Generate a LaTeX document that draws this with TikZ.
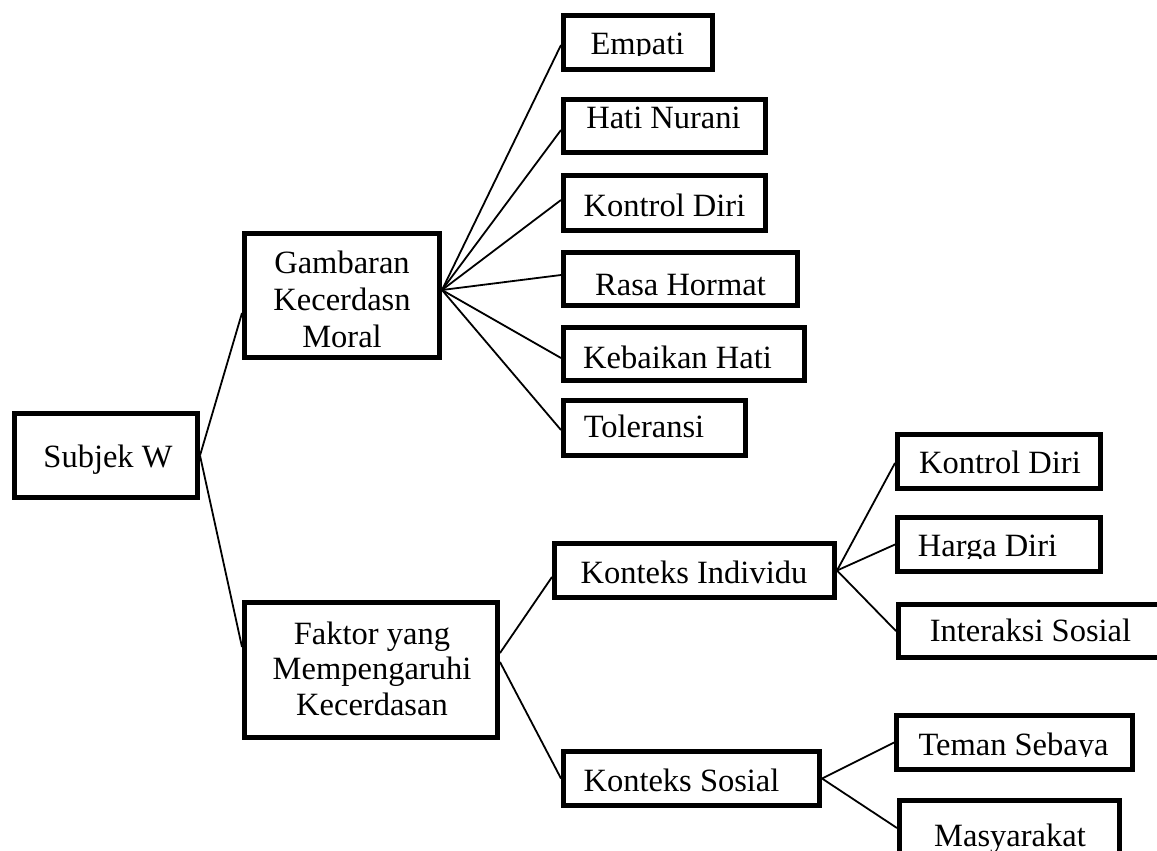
\documentclass[tikz,border=0pt]{standalone}
\usepackage{fontspec}
\setmainfont{Liberation Serif}
\begin{document}
\begin{tikzpicture}[x=1pt,y=-1pt,
  box/.style={draw,line width=5pt,rectangle,inner sep=0pt,fill=white},
  conn/.style={line width=1.8pt},
  txt/.style={inner sep=0pt,anchor=base,font=\fontsize{32.5}{37}\selectfont},
  mtxt/.style={inner sep=0pt,anchor=base,align=center}]
\useasboundingbox (0,0) rectangle (1157,851);
\clip (0,0) rectangle (1157,851);
% boxes
\node[box,minimum width=183pt,minimum height=84pt] (sub) at (106,455.5) {};
\node[box,minimum width=195pt,minimum height=124pt] (gam) at (342,295.5) {};
\node[box,minimum width=253pt,minimum height=135pt] (fak) at (371,670) {};
\node[box,minimum width=149pt,minimum height=54pt] (emp) at (638,42.5) {};
\node[box,minimum width=202pt,minimum height=53pt] (hat) at (664.5,126) {};
\node[box,minimum width=202pt,minimum height=55pt] (kon) at (664.5,203) {};
\node[box,minimum width=234pt,minimum height=53pt] (ras) at (680.5,279) {};
\node[box,minimum width=241pt,minimum height=53pt] (keb) at (684,354) {};
\node[box,minimum width=182pt,minimum height=55pt] (tol) at (654.5,428) {};
\node[box,minimum width=280pt,minimum height=54pt] (kin) at (694.5,570.5) {};
\node[box,minimum width=256pt,minimum height=54pt] (kso) at (691.5,778.5) {};
\node[box,minimum width=203pt,minimum height=54pt] (kdt) at (999,461.5) {};
\node[box,minimum width=203pt,minimum height=54pt] (har) at (999,544.5) {};
\node[box,minimum width=274pt,minimum height=53pt] (int) at (1035.5,631) {};
\node[box,minimum width=236pt,minimum height=54pt] (tem) at (1014.5,742.5) {};
\node[box,minimum width=220pt,minimum height=67pt] (mas) at (1009.5,834) {};
% connectors
\draw[conn] (sub.east) -- ([yshift=-17.5pt]gam.west);
\draw[conn] (sub.east) -- ([yshift=23pt]fak.west);
\coordinate (gc) at ([yshift=5.5pt]gam.east);
\draw[conn] (gc) -- ([yshift=-2.5pt]emp.west);
\draw[conn] (gc) -- ([yshift=-4pt]hat.west);
\draw[conn] (gc) -- ([yshift=3pt]kon.west);
\draw[conn] (gc) -- ([yshift=4pt]ras.west);
\draw[conn] (gc) -- ([yshift=-4pt]keb.west);
\draw[conn] (gc) -- ([yshift=-2pt]tol.west);
\draw[conn] ([yshift=17pt]fak.east) -- ([yshift=-6.5pt]kin.west);
\draw[conn] ([yshift=8pt]fak.east) -- (kso.west);
\draw[conn] (kin.east) -- ([yshift=-1.5pt]kdt.west);
\draw[conn] (kin.east) -- (har.west);
\draw[conn] (kin.east) -- (int.west);
\draw[conn] (kso.east) -- (tem.west);
\draw[conn] (kso.east) -- ([yshift=6pt]mas.west);
% texts
\node[txt] (tsub) at (108,467.3) {Subjek W};
\node[mtxt,font=\fontsize{32.5}{37}\selectfont] (tgam) at (342,273) {\begin{tabular}[t]{@{}c@{}}Gambaran\\Kecerdasn\\Moral\end{tabular}};
\node[mtxt,font=\fontsize{32.5}{35.5}\selectfont] (tfak) at (372,644) {\begin{tabular}[t]{@{}c@{}}Faktor yang\\Mempengaruhi\\Kecerdasan\end{tabular}};
\begin{scope}
\clip (561,13) rectangle (715,56);
\node[txt] (temp) at (637.5,55) {Empati};
\end{scope}
\node[txt] (that) at (663.5,128.5) {Hati Nurani};
\node[txt] (tkon) at (664.5,216) {Kontrol Diri};
\node[txt] (tras) at (680.5,295) {Rasa Hormat};
\node[txt] (tkeb) at (677.5,368) {Kebaikan Hati};
\node[txt] (ttol) at (644,437) {Toleransi};
\node[txt] (tkin) at (694,583.3) {Konteks Individu};
\node[txt] (tkso) at (681.5,791.7) {Konteks Sosial};
\node[txt] (tkdt) at (1000,473.3) {Kontrol Diri};
\begin{scope}
\clip (895,515) rectangle (1103,558);
\node[txt] (thar) at (987.5,556.7) {Harga Diri};
\end{scope}
\node[txt] (tint) at (1030.5,641.7) {Interaksi Sosial};
\begin{scope}
\clip (894,713) rectangle (1135,756);
\node[txt] (ttem) at (1013.5,755) {Teman Sebaya};
\end{scope}
\node[txt] (tmas) at (1010,846) {Masyarakat};
\end{tikzpicture}
\end{document}
